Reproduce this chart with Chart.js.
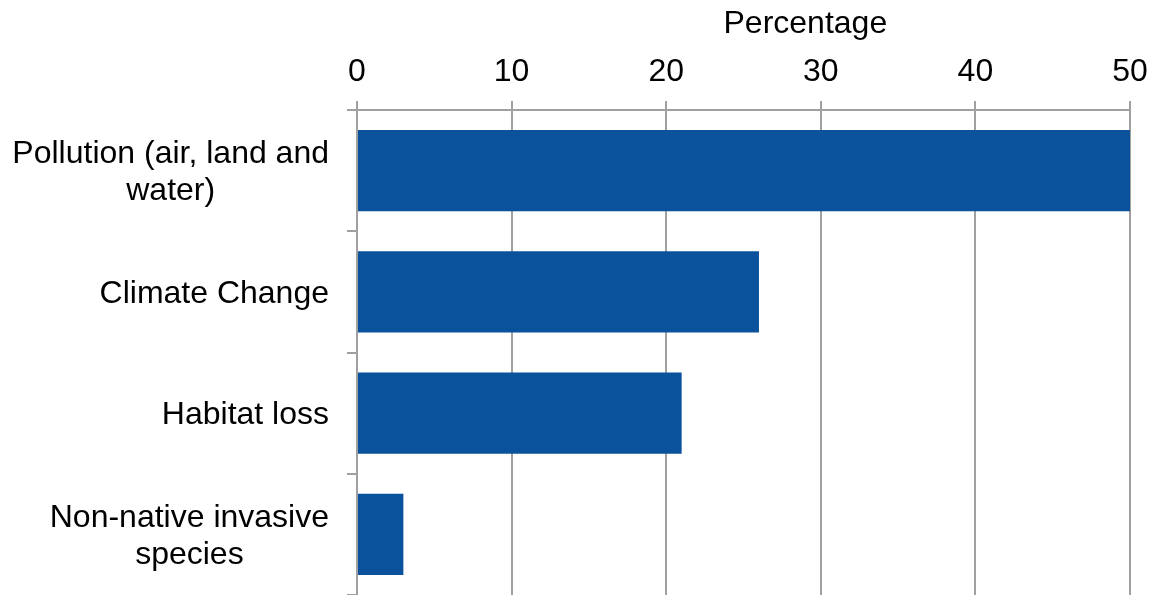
<!DOCTYPE html>
<html><head><meta charset="utf-8">
<script src="https://cdn.jsdelivr.net/npm/chart.js@4/dist/chart.umd.min.js"></script>
<style>html,body{margin:0;padding:0;background:#fff}#wrap{width:1154px;height:595px}</style>
</head><body><div id="wrap"><canvas id="c" width="1154" height="595"></canvas></div>
<script>
const categories = [['Pollution (air, land and', 'water)'], 'Climate Change', 'Habitat loss', ['Non-native invasive', 'species']];
const values = [50, 26, 21, 3];
const xTicks = [0, 10, 20, 30, 40, 50];
const axisTitle = 'Percentage';

const FONT = '"Liberation Sans", Arial, sans-serif';
const GRID = '#a0a0a0';
const BAR = '#0a529c';

const labelPlugin = {
  id: 'customLabels',
  afterDraw(chart) {
    const ctx = chart.ctx;
    const ys = chart.scales.y;
    const ca = chart.chartArea;
    ctx.save();
    ctx.font = '32px ' + FONT;
    ctx.fillStyle = '#000';
    ctx.textAlign = 'center';
    ctx.textBaseline = 'middle';
    const right = ys.right - 10 - 18;
    const lh = 37;
    categories.forEach((lab, i) => {
      const lines = Array.isArray(lab) ? lab : [lab];
      const w = Math.max(...lines.map(l => ctx.measureText(l).width));
      const cx = right - w / 2;
      const cy = ys.getPixelForValue(i) + 2;
      lines.forEach((l, j) => ctx.fillText(l, cx, cy + (j - (lines.length - 1) / 2) * lh));
    });
    ctx.textBaseline = 'alphabetic';
    ctx.fillText(axisTitle, ca.left + (ca.right - ca.left) * 0.58, 33);
    ctx.restore();
  }
};

new Chart(document.getElementById('c'), {
  type: 'bar',
  data: {
    labels: categories,
    datasets: [{ data: values, backgroundColor: BAR, borderWidth: 0, barPercentage: 0.67, categoryPercentage: 1 }]
  },
  options: {
    indexAxis: 'y',
    responsive: false,
    devicePixelRatio: 1,
    animation: false,
    layout: { padding: { left: 0, right: 24, top: 0, bottom: 0 } },
    plugins: { legend: { display: false }, tooltip: { enabled: false } },
    scales: {
      x: {
        position: 'top',
        min: 0, max: 50,
        afterBuildTicks(s) { s.ticks = xTicks.map(v => ({ value: v })); },
        afterFit(s) { s.height = 110; s.paddingLeft = 0; s.paddingRight = 0; },
        ticks: { font: { family: FONT, size: 32, lineHeight: 1.15 }, color: '#000', padding: 10 },
        grid: { color: GRID, lineWidth: 2, tickLength: 9 },
        border: { color: GRID, width: 2 }
      },
      y: {
        afterFit(s) { s.width = 357; s.paddingTop = 0; s.paddingBottom = 0; },
        ticks: { display: false },
        grid: { offset: true, drawOnChartArea: false, color: GRID, lineWidth: 2, tickLength: 10 },
        border: { color: GRID, width: 2 }
      }
    }
  },
  plugins: [labelPlugin]
});
</script>
</body></html>
